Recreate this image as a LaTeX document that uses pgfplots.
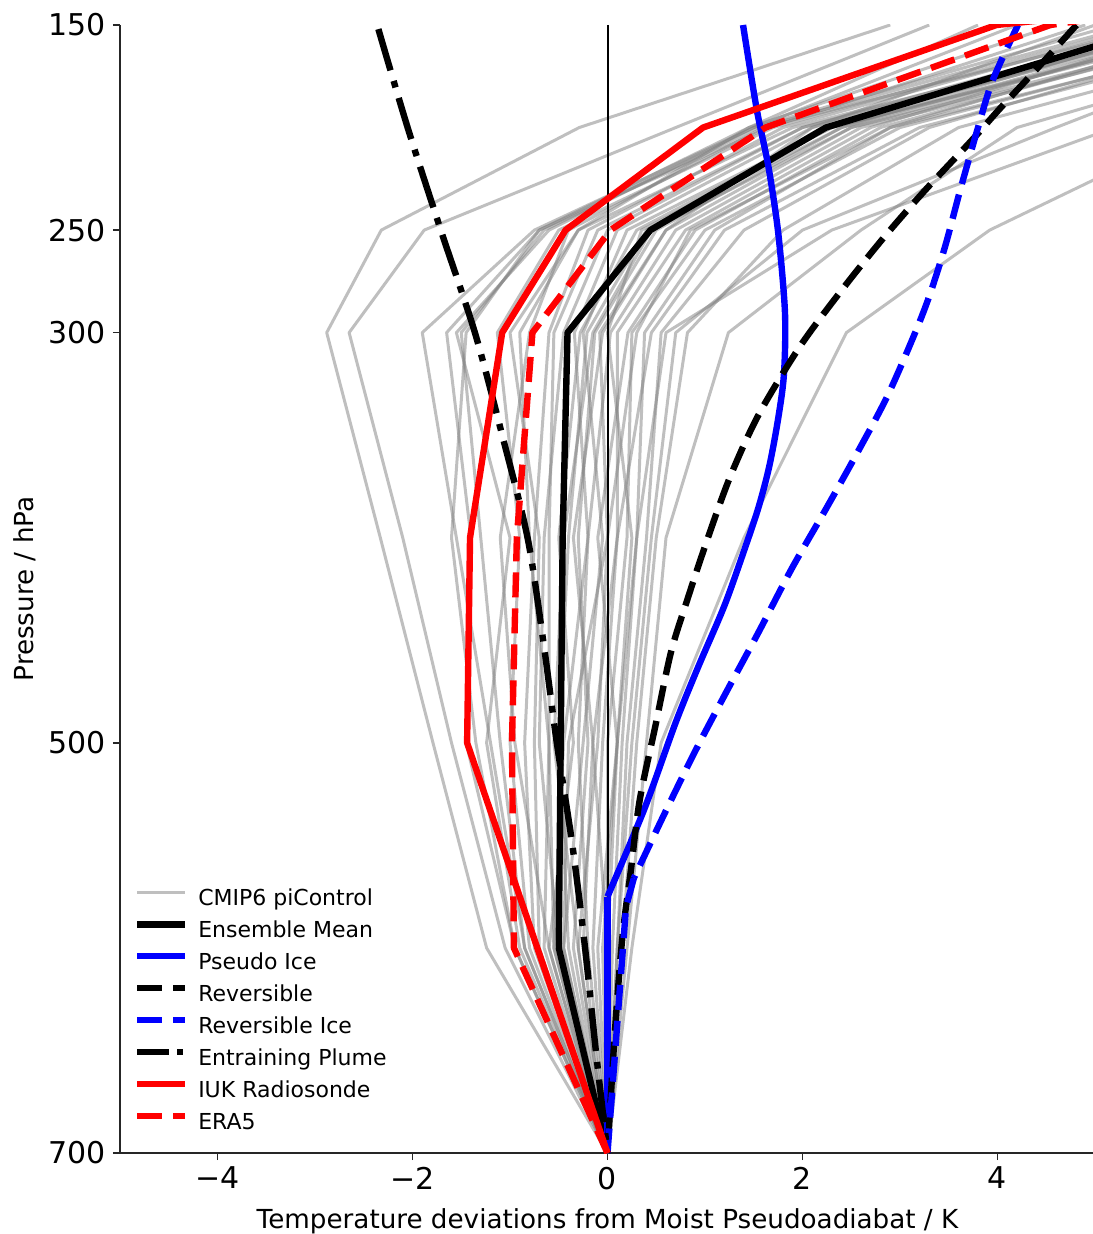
\documentclass[border=0pt]{standalone}
\usepackage{fontspec}
\setmainfont{DejaVu Sans}
\usepackage{pgfplots}
\usepackage{pgfplotstable}
\pgfplotsset{compat=1.18}
\definecolor{cmip}{RGB}{128,128,128}
\pgfplotsset{plumeleg/.style={legend image code/.code={\draw[##1, line cap=butt, dash pattern=on 16pt off 4pt on 3pt off 4pt] (0pt,4pt) -- (24pt,4pt);}}}

\pgfplotstableread{
p m1 m2 m3 m4 m5 m6 m7 m8 m9 m10 m11 m12 m13 m14 m15 m16 m17 m18 m19 m20 m21 m22 m23 m24 m25 m26 m27 m28 m29 m30 m31 m32 m33 m34 m35 m36
150 2.9 3.3 4.2 4.6 5.2 5.5 6.0 5.8 6.2 6.5 6.0 5.9 6.3 6.8 6.1 6.6 7.0 6.4 7.2 6.9 7.5 7.8 9.0 5.6 6.1 5.7 6.4 6.7 5.4 4.9 6.2 7.1 5.0 3.8 8.0 7.3
200 -0.29 0.70 1.5 1.45 1.5 1.7 1.9 2.0 2.1 2.3 2.2 2.4 2.5 2.6 2.7 2.8 3.0 2.9 3.2 3.3 3.6 4.2 6.1 1.8 2.0 1.6 2.3 2.5 1.55 1.65 2.4 2.9 2.1 1.45 5.2 4.6
250 -2.32 -1.88 -0.75 -0.70 -0.6 -0.5 -0.3 -0.1 0.1 0.3 0.4 0.5 0.6 0.7 0.8 0.9 1.0 1.1 1.2 1.4 1.8 2.6 3.92 -0.2 0.0 -0.4 0.2 0.45 -0.65 -0.7 0.35 0.85 0.6 -0.3 2.3 2.0
300 -2.88 -2.65 -1.90 -1.65 -1.55 -1.13 -1.00 -0.55 -0.34 -0.28 -0.21 -0.13 -0.08 0.03 0.10 0.21 0.25 0.38 0.45 0.55 0.82 1.24 2.45 -0.6 -0.45 -0.8 -0.25 -0.15 -1.5 -1.45 0.0 0.3 -0.05 -0.9 0.6 0.7
400 -2.33 -2.10 -1.55 -1.40 -1.0 -0.9 -0.7 -0.6 -0.2 -0.5 -0.4 -0.3 0.0 -0.2 0.1 -0.1 0.2 0.3 0.1 0.4 0.5 0.6 1.4 -0.75 -0.65 -1.1 -0.05 -0.45 -1.3 -1.6 0.25 0.0 -0.35 -0.8 0.3 0.45
500 -1.79 -1.60 -1.20 -1.45 -1.24 -1.0 -0.75 -0.6 -0.45 -0.35 -0.5 -0.2 -0.1 -0.3 -0.05 0.1 0.0 0.15 -0.15 0.2 0.3 0.4 0.55 -0.85 -0.7 -0.95 -0.25 -0.55 -1.1 -1.35 0.1 -0.4 -0.15 -0.6 0.1 0.25
600 -1.24 -1.05 -0.85 -0.95 -0.9 -0.8 -0.7 -0.65 -0.55 -0.6 -0.4 -0.35 -0.3 -0.2 -0.15 -0.1 0.0 0.05 -0.25 0.1 0.15 0.2 0.25 -0.75 -0.5 -0.6 -0.45 -0.3 -0.85 -0.95 -0.05 -0.45 0.0 -0.55 0.0 0.1
700 0 0 0 0 0 0 0 0 0 0 0 0 0 0 0 0 0 0 0 0 0 0 0 0 0 0 0 0 0 0 0 0 0 0 0 0
}\graydata

\begin{document}
\begin{tikzpicture}
\useasboundingbox (-60pt,-40.5pt) rectangle (486pt,576.5pt);
\begin{axis}[
  at={(0pt,0pt)}, anchor=south west,
  width=487.5pt, height=564pt, scale only axis,
  xmin=-5, xmax=5, ymin=150, ymax=700, y dir=reverse,
  axis x line*=bottom, axis y line*=left,
  axis line style={line width=0.8pt, black!85},
  xtick={-4,-2,0,2,4}, xticklabels={−4,−2,0,2,4},
  ytick={150,250,300,500,700}, yticklabels={150,250,300,500,700},
  tick align=outside, major tick length=3.5pt,
  tick style={line width=0.8pt, black!85},
  ticklabel style={font=\fontsize{15}{17}\selectfont},
  xlabel={Temperature deviations from Moist Pseudoadiabat / K},
  ylabel={Pressure / hPa},
  label style={font=\fontsize{13.1}{15}\selectfont},
  xlabel style={at={(axis description cs:0.5,0)}, anchor=center, yshift=-34pt},
  ylabel style={at={(axis description cs:-0.0974,0.5)}, anchor=center},
  legend style={at={(rel axis cs:0.0142,0.2332)}, anchor=north west, draw=none, fill=none,
    inner sep=0pt, outer sep=0pt, column sep=5pt, row sep=5.1pt,
    font=\fontsize{11}{13}\selectfont,
    nodes={inner sep=0pt, text height=8pt, text depth=2.5pt}},
  legend cell align=left,
  legend image code/.code={\draw[#1, line cap=butt] (0pt,4pt) -- (24pt,4pt);},
  cm/.style={color=cmip, opacity=0.5, line width=1.5pt, line join=round},
  thk/.style={line width=3.2pt, line join=round},
  dsh/.style={dash pattern=on 12.5pt off 5.5pt},
  dshdot/.style={dash pattern=on 21.5pt off 5.5pt on 3.4pt off 5.5pt},
]
\addplot[cm] table[x=m1, y=p]{\graydata};
\addlegendentry{CMIP6 piControl}
\pgfplotsinvokeforeach{2,...,36}{
  \addplot[cm, forget plot] table[x=m#1, y=p]{\graydata};
}
\addplot[black, line width=1pt, forget plot] coordinates {(0,150) (0,700)};
% Ensemble mean
\addplot[black, thk] coordinates {(5.72,150) (2.24,200) (0.44,250) (-0.41,300) (-0.46,400) (-0.48,500) (-0.50,600) (0,700)};
\addlegendentry{Ensemble Mean}
% Pseudo ice
\addplot[blue, thk, smooth, tension=0.5] coordinates {(1.39,150) (1.53,191) (1.65,219) (1.75,251) (1.82,290) (1.81,320) (1.75,342) (1.66,365) (1.55,385) (1.41,405) (1.20,433) (0.93,463) (0.70,490) (0.38,532) (0,575)};
\addlegendentry{Pseudo Ice}
\addplot[blue, thk, forget plot] coordinates {(0,575) (0,700)};
% Reversible
\addplot[black, thk, dsh, smooth, tension=0.5] coordinates {(4.81,150) (4.43,170) (4.02,191) (3.74,206) (3.23,232) (2.81,255) (2.39,280) (1.97,307) (1.55,340) (1.26,370) (1.03,400) (0.82,430) (0.65,456) (0.49,492) (0.33,528) (0.24,562) (0.15,596) (0.07,645) (0,700)};
\addlegendentry{Reversible}
% Reversible ice
\addplot[blue, thk, dsh, smooth, tension=0.5] coordinates {(4.21,150) (3.95,177) (3.80,200) (3.62,230) (3.45,260) (3.24,290) (2.89,329) (2.58,357) (2.24,386) (1.89,415) (1.55,446) (1.21,476) (0.90,504) (0.59,534) (0.27,566)};
\addlegendentry{Reversible Ice}
\addplot[blue, thk, dsh, forget plot] coordinates {(0.27,566) (0.19,580) (0,700)};
% Entraining plume
\addplot[black, thk, dshdot, smooth, tension=0.5, plumeleg]
  coordinates {(-2.35,152) (-2.05,200) (-1.71,250) (-1.36,300) (-1.08,350) (-0.82,400) (-0.66,450) (-0.52,500) (-0.36,550) (-0.23,600) (-0.12,650) (0,700)};
\addlegendentry{Entraining Plume}
% IUK radiosonde
\addplot[red, thk] coordinates {(0,700) (-0.72,600) (-1.44,500) (-1.41,400) (-1.08,300) (-0.43,250) (0.98,200) (3.99,150) (14,100)};
\addlegendentry{IUK Radiosonde}
% ERA5
\addplot[red, thk, dsh] coordinates {(0,700) (-0.96,600) (-0.98,500) (-0.93,400) (-0.77,300) (0.03,250) (1.62,200) (4.54,150) (12,100)};
\addlegendentry{ERA5}
\end{axis}
\end{tikzpicture}
\end{document}
